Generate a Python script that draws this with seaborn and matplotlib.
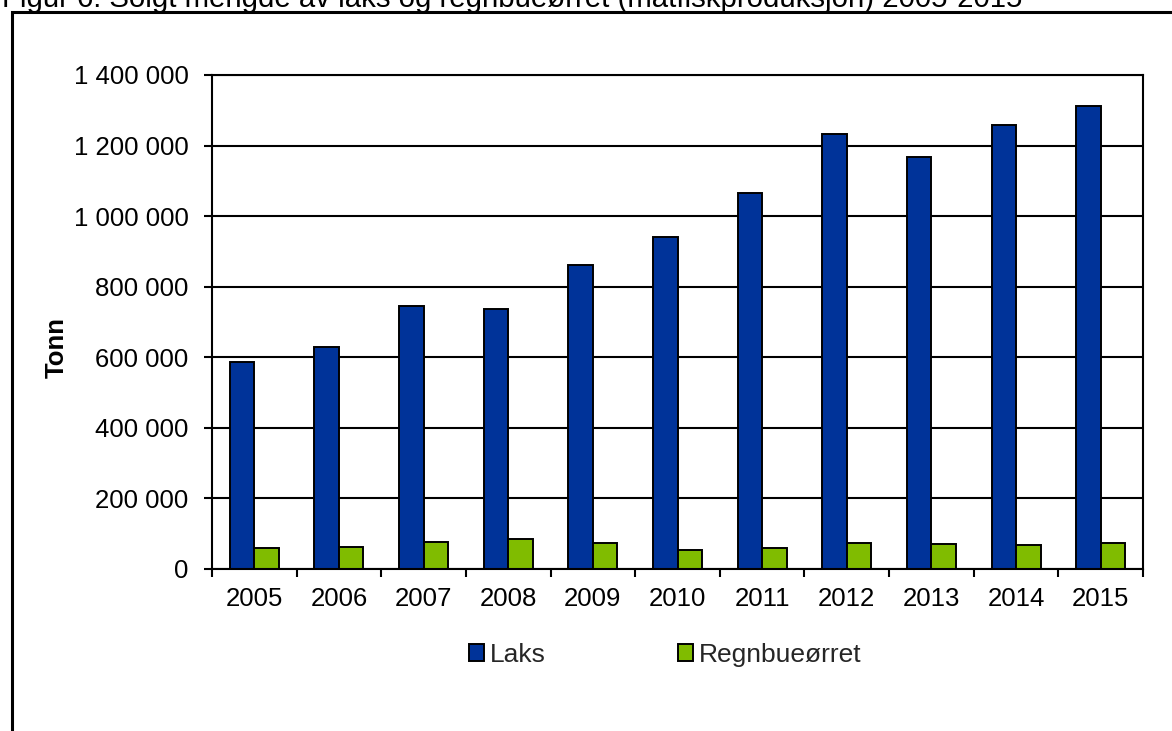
import matplotlib
matplotlib.use("Agg")
import matplotlib.pyplot as plt
from matplotlib.patches import Patch, Rectangle
from matplotlib.ticker import FuncFormatter, FixedLocator
import numpy as np
import pandas as pd
import seaborn as sns

aar = ["2005", "2006", "2007", "2008", "2009", "2010", "2011", "2012", "2013", "2014", "2015"]
laks = [586500, 629900, 744200, 737700, 862900, 939600, 1064900, 1232100, 1168300, 1258400, 1313000]
regnbue = [58900, 62700, 77400, 85200, 73600, 54500, 58500, 74600, 71400, 68900, 72400]
serier = ["Laks", "Regnbueørret"]
farger = ["#003399", "#80BC00"]
tittel = "Figur 6: Solgt mengde av laks og regnbueørret (matfiskproduksjon) 2005-2015"

df = pd.DataFrame({
    "År": aar * 2,
    "Tonn": laks + regnbue,
    "Art": [serier[0]] * len(aar) + [serier[1]] * len(aar),
})

sns.set_theme(style="white")
plt.rcParams["font.family"] = ["Liberation Sans", "DejaVu Sans"]
fs = 18.5

W, H = 1172, 731
fig = plt.figure(figsize=(W / 100, H / 100), dpi=100)
ax = fig.add_axes([212 / W, 1 - 569 / H, (1143 - 212) / W, (569 - 75) / H])

sns.barplot(data=df, x="År", y="Tonn", hue="Art", palette=farger, width=0.58,
            edgecolor="black", linewidth=1.4, saturation=1, legend=False, ax=ax)

ax.set_ylim(0, 1400000)
ax.set_xlim(-0.5, len(aar) - 0.5)
ax.set_yticks(np.arange(0, 1400001, 200000))
ax.yaxis.set_major_formatter(FuncFormatter(lambda v, p: f"{int(v):,}".replace(",", " ")))
ax.grid(axis="y", color="black", linewidth=1.5)
ax.set_axisbelow(True)
for s in ax.spines.values():
    s.set_visible(True)
    s.set_color("black")
    s.set_linewidth(1.5)

ax.tick_params(axis="x", which="major", length=0, labelsize=fs, pad=13, colors="black")
ax.xaxis.set_minor_locator(FixedLocator(np.arange(-0.5, len(aar), 1.0)))
ax.tick_params(axis="x", which="minor", length=6, width=1.5, color="black", bottom=True)
ax.tick_params(axis="y", length=6, width=1.5, left=True, labelsize=fs, pad=11, colors="black")
ax.set_xlabel("")
ax.set_ylabel("Tonn", fontsize=fs, fontweight="bold", color="black")
ax.yaxis.set_label_coords(-0.1536, 0.448)

handles = [Patch(facecolor=c, edgecolor="black", linewidth=1.4) for c in farger]
fig.legend(handles, serier, loc="center", bbox_to_anchor=(665 / W, 1 - 655 / H), ncol=2,
           frameon=False, fontsize=19, handlelength=0.6, handleheight=0.6,
           handletextpad=0.2, columnspacing=5.0)

fig.patches.append(Rectangle((12 / W, -0.05), 1.1, 1 - 12.5 / H + 0.05, transform=fig.transFigure,
                             fill=False, edgecolor="black", linewidth=2.2))
fig.text(2 / W, 1 - 7 / H, tittel, fontsize=21.2, va="baseline", ha="left", color="black")

fig.savefig("out.png", dpi=100)
